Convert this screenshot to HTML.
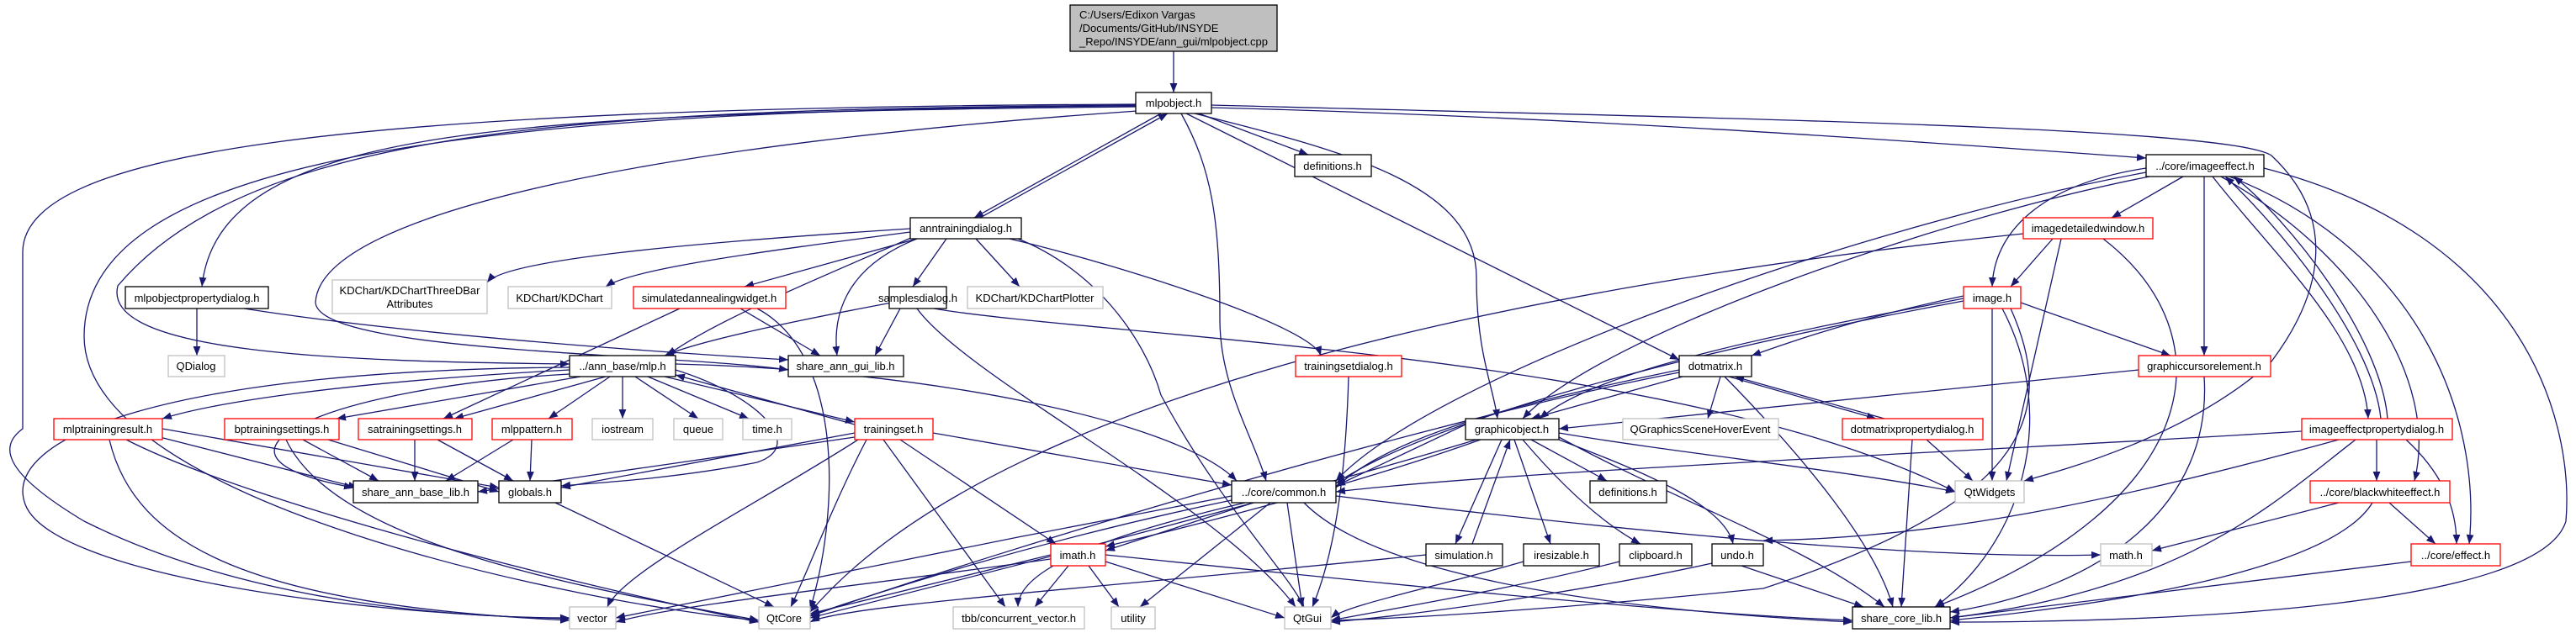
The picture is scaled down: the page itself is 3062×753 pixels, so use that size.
<!DOCTYPE html>
<html><head><meta charset="utf-8"><style>
html,body{margin:0;padding:0;background:#fff}
svg{display:block}
text{font-family:"Liberation Sans",Arial,sans-serif;font-size:13px;fill:#000}
</style></head><body>
<svg width="3062" height="753" viewBox="0 0 3062 753" xmlns="http://www.w3.org/2000/svg">
<defs>
<marker id="a" viewBox="0 0 10 8" refX="10" refY="4" markerWidth="11" markerHeight="9" markerUnits="userSpaceOnUse" orient="auto"><path d="M0,0 L10,4 L0,8 z" fill="#191970"/></marker>
</defs>
<g fill="none" stroke="#191970" stroke-width="1.3" marker-end="url(#a)">
<path d="M1395 61 L1395 110"/>
<path d="M1380 135 L1158 259"/>
<path d="M1165 259 L1388 135"/>
<path d="M1425 135 L1555 184"/>
<path d="M1440 128 C1900 140 2300 170 2551 188"/>
<path d="M1350 127 C600 135 260 150 240 341"/>
<path d="M1350 125 C700 130 300 150 140 340 C120 420 400 430 677 433"/>
<path d="M1350 124 C400 128 27 180 27 300 L27 510 C0 530 0 560 100 620 C300 720 550 735 677 735"/>
<path d="M1352 132 C800 170 380 250 375 360 C380 420 800 420 937 440"/>
<path d="M1350 126 C500 130 100 200 100 400 C100 600 700 720 902 738"/>
<path d="M1404 135 C1440 200 1450 260 1450 380 C1450 460 1490 520 1505 572"/>
<path d="M1410 135 L1996 428"/>
<path d="M1420 135 C1600 180 1755 220 1755 330 C1755 420 1775 460 1780 498"/>
<path d="M1440 125 C2000 140 2650 150 2700 185 C2780 260 2760 350 2700 430 C2600 520 2450 560 2406 572"/>
<path d="M1125 284 L1085 341"/>
<path d="M1160 284 L1212 341"/>
<path d="M1082 272 C800 290 600 310 579 336"/>
<path d="M1082 276 C900 300 750 320 720 341"/>
<path d="M1090 284 L885 341"/>
<path d="M1200 284 C1350 320 1560 390 1570 423"/>
<path d="M1210 284 C1300 320 1360 400 1380 470 C1450 600 1530 680 1550 722"/>
<path d="M808 367 L527 498"/>
<path d="M1085 282 C1000 320 850 380 793 423"/>
<path d="M1090 284 C1000 320 990 380 995 423"/>
<path d="M880 367 L975 423"/>
<path d="M900 367 C1000 420 1000 600 963 725"/>
<path d="M1060 360 C900 390 820 410 790 423"/>
<path d="M1070 367 L1040 423"/>
<path d="M1090 367 C1150 450 1450 600 1540 722"/>
<path d="M1110 367 C1300 400 2000 420 2324 585"/>
<path d="M234 367 L234 423"/>
<path d="M290 367 C500 400 800 420 937 428"/>
<path d="M677 440 C400 455 250 480 193 498"/>
<path d="M690 448 L400 498"/>
<path d="M720 448 L540 498"/>
<path d="M725 448 L652 498"/>
<path d="M740 448 L740 498"/>
<path d="M755 448 L830 498"/>
<path d="M770 448 L890 498"/>
<path d="M790 448 L1016 502"/>
<path d="M677 445 C400 460 200 540 420 580"/>
<path d="M803 440 C900 470 960 530 900 550 C800 570 700 575 667 578"/>
<path d="M677 437 C200 440 0 520 30 600 C60 680 400 730 677 736"/>
<path d="M803 433 C1100 440 1400 500 1470 572"/>
<path d="M1016 505 L803 446"/>
<path d="M1016 515 L667 580"/>
<path d="M1016 520 L568 585"/>
<path d="M1030 523 C990 600 960 680 940 722"/>
<path d="M1070 523 L1255 647"/>
<path d="M1050 523 L1195 722"/>
<path d="M1109 515 L1464 577"/>
<path d="M1020 523 C900 600 740 680 722 722"/>
<path d="M190 520 L425 580"/>
<path d="M193 510 L593 580"/>
<path d="M130 523 C160 650 300 720 677 738"/>
<path d="M150 523 C300 600 700 700 902 740"/>
<path d="M360 523 L450 572"/>
<path d="M390 523 L593 585"/>
<path d="M340 523 C400 650 700 700 902 738"/>
<path d="M493 523 L493 572"/>
<path d="M520 523 L610 572"/>
<path d="M610 523 L530 572"/>
<path d="M632 523 L630 572"/>
<path d="M660 598 L920 722"/>
<path d="M1603 448 C1600 550 1590 650 1560 722"/>
<path d="M1490 598 L1314 655"/>
<path d="M1480 598 C1300 640 1210 680 1210 722"/>
<path d="M1510 598 L1355 722"/>
<path d="M1530 598 L1548 722"/>
<path d="M1464 595 C1200 650 1000 720 963 732"/>
<path d="M1464 590 C1200 640 800 720 732 735"/>
<path d="M1588 590 C2000 640 2300 665 2497 660"/>
<path d="M1550 598 C1650 700 2000 730 2202 740"/>
<path d="M1270 673 L1230 722"/>
<path d="M1294 673 L1330 722"/>
<path d="M1314 668 L1527 735"/>
<path d="M1249 660 L963 730"/>
<path d="M1249 665 C1000 700 800 720 732 740"/>
<path d="M1314 660 C1700 700 2000 730 2202 738"/>
<path d="M1742 505 L1588 578"/>
<path d="M1820 523 L1910 572"/>
<path d="M1785 523 L1730 647"/>
<path d="M1750 647 L1795 523"/>
<path d="M1800 523 L1843 647"/>
<path d="M1810 523 C1850 570 1900 620 1950 647"/>
<path d="M1853 523 C1950 560 2050 600 2060 647"/>
<path d="M1853 520 C2000 600 2150 650 2240 722"/>
<path d="M1853 515 C2000 540 2200 560 2324 585"/>
<path d="M1755 523 C1500 600 1100 700 963 735"/>
<path d="M1760 523 C1600 580 1400 630 1314 650"/>
<path d="M1695 660 C1300 700 1000 720 963 740"/>
<path d="M1811 668 C1700 700 1600 720 1582 735"/>
<path d="M1925 668 C1800 700 1650 725 1582 738"/>
<path d="M2070 673 L2215 722"/>
<path d="M2035 670 C1900 700 1700 730 1582 740"/>
<path d="M2000 448 L1820 498"/>
<path d="M2045 448 L2030 498"/>
<path d="M2055 448 L2230 498"/>
<path d="M2240 498 L2062 448"/>
<path d="M2050 448 C2150 550 2230 650 2250 722"/>
<path d="M1996 440 C1800 480 1650 520 1588 580"/>
<path d="M1996 443 C1700 500 1200 650 963 733"/>
<path d="M2273 523 L2260 722"/>
<path d="M2290 523 L2345 572"/>
<path d="M2334 352 C2200 380 2120 410 2082 423"/>
<path d="M2334 355 C2100 400 1900 440 1830 498"/>
<path d="M2402 360 L2580 423"/>
<path d="M2368 367 L2368 572"/>
<path d="M2380 367 C2450 500 2400 650 2300 722"/>
<path d="M2334 358 C2000 420 1700 500 1588 575"/>
<path d="M2390 367 C2450 500 2400 600 2096 700 C1900 720 1700 735 1582 738"/>
<path d="M2440 284 L2390 341"/>
<path d="M2450 284 L2385 572"/>
<path d="M2500 284 C2650 400 2620 600 2300 722"/>
<path d="M2405 278 C1900 330 1200 450 963 728"/>
<path d="M2595 210 L2510 259"/>
<path d="M2551 200 C2420 220 2370 280 2368 341"/>
<path d="M2620 210 L2620 423"/>
<path d="M2630 210 C2700 300 2810 400 2815 498"/>
<path d="M2830 498 C2820 400 2700 260 2645 210"/>
<path d="M2838 498 C2830 400 2720 260 2655 210"/>
<path d="M2640 210 C2800 300 2900 450 2870 572"/>
<path d="M2650 210 C2880 300 2950 500 2935 647"/>
<path d="M2691 200 C3000 280 3060 500 3050 620 C3020 720 2600 740 2318 740"/>
<path d="M2555 210 C2300 260 1900 400 1810 498"/>
<path d="M2551 205 C2200 270 1700 450 1588 572"/>
<path d="M2542 440 L1853 510"/>
<path d="M2620 448 C2630 600 2500 700 2318 728"/>
<path d="M2825 523 L2825 572"/>
<path d="M2860 523 C2900 560 2920 600 2920 647"/>
<path d="M2736 513 C2300 540 1800 560 1588 585"/>
<path d="M2800 523 C2700 600 2600 700 2318 735"/>
<path d="M2780 523 C2500 600 2300 640 2096 643"/>
<path d="M2780 598 L2558 655"/>
<path d="M2840 598 L2895 647"/>
<path d="M2820 598 C2770 680 2500 720 2318 738"/>
<path d="M2866 668 C2600 700 2400 725 2318 735"/>
</g>
<g stroke-width="1.3">
<rect x="1272" y="6" width="246" height="55" fill="#bfbfbf" stroke="#000"/>
<text x="1283" y="22">C:/Users/Edixon Vargas</text>
<text x="1283" y="38">/Documents/GitHub/INSYDE</text>
<text x="1283" y="54">_Repo/INSYDE/ann_gui/mlpobject.cpp</text>
</g>
<g fill="#fff" stroke="#000" stroke-width="1.3">
<rect x="1350" y="110" width="90" height="25"/>
<rect x="1539" y="184" width="91" height="26"/>
<rect x="2551" y="184" width="140" height="26"/>
<rect x="1082" y="259" width="132" height="25"/>
<rect x="149" y="341" width="170" height="26"/>
<rect x="1057" y="341" width="68" height="26"/>
<rect x="677" y="423" width="126" height="25"/>
<rect x="937" y="423" width="137" height="25"/>
<rect x="1996" y="423" width="86" height="25"/>
<rect x="1742" y="498" width="111" height="25"/>
<rect x="420" y="572" width="148" height="26"/>
<rect x="593" y="572" width="74" height="26"/>
<rect x="1464" y="572" width="124" height="26"/>
<rect x="1890" y="572" width="91" height="26"/>
<rect x="1695" y="647" width="91" height="26"/>
<rect x="1811" y="647" width="90" height="26"/>
<rect x="1925" y="647" width="86" height="26"/>
<rect x="2035" y="647" width="61" height="26"/>
<rect x="2202" y="722" width="116" height="26"/>
</g>
<g fill="#fff" stroke="#f00" stroke-width="1.3">
<rect x="2405" y="259" width="154" height="25"/>
<rect x="753" y="341" width="181" height="26"/>
<rect x="2334" y="341" width="68" height="26"/>
<rect x="1540" y="423" width="126" height="25"/>
<rect x="2542" y="423" width="157" height="25"/>
<rect x="64" y="498" width="129" height="25"/>
<rect x="267" y="498" width="136" height="25"/>
<rect x="426" y="498" width="135" height="25"/>
<rect x="585" y="498" width="95" height="25"/>
<rect x="1016" y="498" width="93" height="25"/>
<rect x="2190" y="498" width="167" height="25"/>
<rect x="2736" y="498" width="179" height="25"/>
<rect x="2746" y="572" width="166" height="26"/>
<rect x="1249" y="647" width="65" height="26"/>
<rect x="2866" y="647" width="106" height="26"/>
</g>
<g fill="#fff" stroke="#bfbfbf" stroke-width="1.3">
<rect x="395" y="333" width="184" height="40"/>
<rect x="604" y="341" width="123" height="26"/>
<rect x="1150" y="341" width="161" height="26"/>
<rect x="200" y="423" width="67" height="25"/>
<rect x="704" y="498" width="72" height="25"/>
<rect x="801" y="498" width="58" height="25"/>
<rect x="883" y="498" width="58" height="25"/>
<rect x="1929" y="498" width="185" height="25"/>
<rect x="2324" y="572" width="82" height="26"/>
<rect x="2497" y="647" width="61" height="26"/>
<rect x="677" y="722" width="55" height="26"/>
<rect x="902" y="722" width="61" height="26"/>
<rect x="1133" y="722" width="156" height="26"/>
<rect x="1321" y="722" width="52" height="26"/>
<rect x="1527" y="722" width="55" height="26"/>
</g>
<g text-anchor="middle">
<text x="1395" y="127">mlpobject.h</text>
<text x="1584" y="202">definitions.h</text>
<text x="2621" y="202">../core/imageeffect.h</text>
<text x="1148" y="276">anntrainingdialog.h</text>
<text x="2482" y="276">imagedetailedwindow.h</text>
<text x="234" y="359">mlpobjectpropertydialog.h</text>
<text x="487" y="350">KDChart/KDChartThreeDBar</text>
<text x="487" y="366">Attributes</text>
<text x="665" y="359">KDChart/KDChart</text>
<text x="843" y="359">simulatedannealingwidget.h</text>
<text x="1091" y="359">samplesdialog.h</text>
<text x="1230" y="359">KDChart/KDChartPlotter</text>
<text x="2368" y="359">image.h</text>
<text x="233" y="440">QDialog</text>
<text x="740" y="440">../ann_base/mlp.h</text>
<text x="1005" y="440">share_ann_gui_lib.h</text>
<text x="1603" y="440">trainingsetdialog.h</text>
<text x="2039" y="440">dotmatrix.h</text>
<text x="2620" y="440">graphiccursorelement.h</text>
<text x="128" y="515">mlptrainingresult.h</text>
<text x="335" y="515">bptrainingsettings.h</text>
<text x="493" y="515">satrainingsettings.h</text>
<text x="632" y="515">mlppattern.h</text>
<text x="740" y="515">iostream</text>
<text x="830" y="515">queue</text>
<text x="912" y="515">time.h</text>
<text x="1062" y="515">trainingset.h</text>
<text x="1797" y="515">graphicobject.h</text>
<text x="2021" y="515">QGraphicsSceneHoverEvent</text>
<text x="2273" y="515">dotmatrixpropertydialog.h</text>
<text x="2825" y="515">imageeffectpropertydialog.h</text>
<text x="494" y="590">share_ann_base_lib.h</text>
<text x="630" y="590">globals.h</text>
<text x="1526" y="590">../core/common.h</text>
<text x="1935" y="590">definitions.h</text>
<text x="2365" y="590">QtWidgets</text>
<text x="2829" y="590">../core/blackwhiteeffect.h</text>
<text x="1281" y="665">imath.h</text>
<text x="1740" y="665">simulation.h</text>
<text x="1856" y="665">iresizable.h</text>
<text x="1968" y="665">clipboard.h</text>
<text x="2065" y="665">undo.h</text>
<text x="2527" y="665">math.h</text>
<text x="2919" y="665">../core/effect.h</text>
<text x="704" y="740">vector</text>
<text x="932" y="740">QtCore</text>
<text x="1211" y="740">tbb/concurrent_vector.h</text>
<text x="1347" y="740">utility</text>
<text x="1554" y="740">QtGui</text>
<text x="2260" y="740">share_core_lib.h</text>
</g>
</svg>
</body></html>
